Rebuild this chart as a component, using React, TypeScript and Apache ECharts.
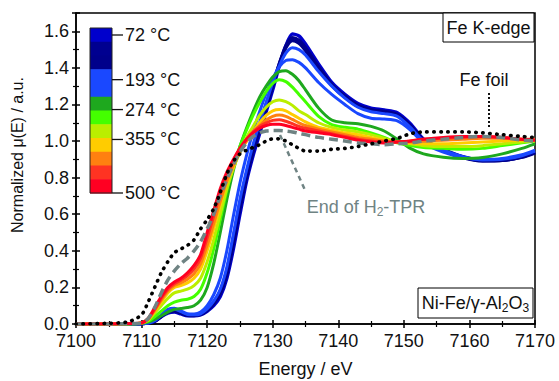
import React, { useEffect, useRef } from 'react';
import * as echarts from 'echarts';

const FONT = 'Liberation Sans, Arial, Helvetica, sans-serif';

// Energy grid (eV)
const energy = [7100, 7105, 7108, 7110, 7111, 7112, 7113, 7114, 7115, 7116, 7117, 7118, 7119, 7120, 7121, 7122, 7123, 7124, 7125, 7126, 7127, 7128, 7129, 7130, 7131, 7132, 7133, 7134, 7135, 7137, 7139, 7141, 7143, 7145, 7147, 7149, 7151, 7153, 7156, 7159, 7162, 7165, 7168, 7170];

// In-situ spectra during H2-TPR (72 °C -> 500 °C)
const spec01 = [0, 0, 0, 0.002, 0.005, 0.015, 0.04, 0.06, 0.065, 0.055, 0.045, 0.045, 0.05, 0.07, 0.1, 0.15, 0.25, 0.41, 0.6, 0.78, 0.92, 1.04, 1.16, 1.28, 1.41, 1.52, 1.585, 1.575, 1.53, 1.42, 1.32, 1.255, 1.205, 1.18, 1.17, 1.155, 1.095, 1.01, 0.955, 0.915, 0.895, 0.895, 0.915, 0.94];
const spec02 = [0, 0, 0, 0.002, 0.005, 0.015, 0.042, 0.065, 0.07, 0.06, 0.048, 0.047, 0.052, 0.075, 0.11, 0.165, 0.27, 0.44, 0.63, 0.8, 0.94, 1.06, 1.18, 1.3, 1.42, 1.52, 1.565, 1.55, 1.51, 1.405, 1.31, 1.245, 1.195, 1.172, 1.162, 1.145, 1.085, 1.005, 0.95, 0.912, 0.893, 0.895, 0.913, 0.938];
const spec03 = [0, 0, 0, 0.002, 0.005, 0.016, 0.044, 0.068, 0.074, 0.063, 0.05, 0.049, 0.055, 0.08, 0.12, 0.18, 0.29, 0.47, 0.66, 0.82, 0.96, 1.08, 1.2, 1.31, 1.42, 1.51, 1.55, 1.535, 1.495, 1.395, 1.305, 1.24, 1.19, 1.168, 1.158, 1.14, 1.08, 1.0, 0.948, 0.91, 0.892, 0.895, 0.912, 0.936];
const spec04 = [0, 0, 0, 0.002, 0.005, 0.018, 0.047, 0.075, 0.082, 0.068, 0.052, 0.05, 0.056, 0.082, 0.125, 0.19, 0.31, 0.49, 0.68, 0.84, 0.98, 1.1, 1.21, 1.32, 1.41, 1.48, 1.51, 1.5, 1.47, 1.38, 1.3, 1.235, 1.185, 1.16, 1.15, 1.135, 1.075, 1.0, 0.95, 0.915, 0.897, 0.9, 0.92, 0.945];
const spec05 = [0, 0, 0, 0.002, 0.006, 0.02, 0.05, 0.08, 0.086, 0.072, 0.056, 0.055, 0.065, 0.1, 0.16, 0.25, 0.4, 0.59, 0.77, 0.92, 1.05, 1.16, 1.26, 1.34, 1.405, 1.44, 1.445, 1.43, 1.4, 1.32, 1.255, 1.2, 1.15, 1.125, 1.12, 1.11, 1.06, 0.99, 0.94, 0.91, 0.9, 0.905, 0.925, 0.95];
const spec06 = [0, 0, 0, 0.003, 0.01, 0.025, 0.045, 0.065, 0.08, 0.085, 0.09, 0.1, 0.13, 0.2, 0.33, 0.5, 0.68, 0.84, 0.97, 1.07, 1.16, 1.24, 1.3, 1.35, 1.38, 1.385, 1.365, 1.33, 1.28, 1.18, 1.115, 1.1, 1.095, 1.08, 1.055, 1.01, 0.96, 0.93, 0.912, 0.905, 0.91, 0.93, 0.96, 0.985];
const spec07 = [0, 0, 0, 0.004, 0.015, 0.04, 0.07, 0.1, 0.12, 0.13, 0.135, 0.15, 0.19, 0.28, 0.41, 0.57, 0.73, 0.86, 0.97, 1.06, 1.14, 1.21, 1.27, 1.315, 1.335, 1.325, 1.295, 1.255, 1.215, 1.135, 1.09, 1.075, 1.065, 1.045, 1.02, 0.99, 0.975, 0.965, 0.96, 0.955, 0.96, 0.975, 0.99, 1.0];
const spec08 = [0, 0, 0, 0.005, 0.02, 0.06, 0.1, 0.14, 0.17, 0.18, 0.19, 0.21, 0.25, 0.34, 0.46, 0.6, 0.74, 0.85, 0.94, 1.02, 1.08, 1.14, 1.185, 1.215, 1.225, 1.215, 1.195, 1.165, 1.145, 1.1, 1.075, 1.06, 1.05, 1.035, 1.015, 0.995, 0.985, 0.975, 0.97, 0.97, 0.975, 0.985, 0.995, 1.0];
const spec09 = [0, 0, 0.002, 0.006, 0.025, 0.07, 0.12, 0.17, 0.2, 0.21, 0.225, 0.25, 0.3, 0.4, 0.52, 0.65, 0.77, 0.86, 0.94, 1.0, 1.05, 1.1, 1.14, 1.165, 1.172, 1.165, 1.145, 1.125, 1.105, 1.075, 1.06, 1.045, 1.035, 1.02, 1.005, 0.995, 0.99, 0.985, 0.985, 0.99, 0.995, 1.0, 1.005, 1.005];
const spec10 = [0, 0, 0.002, 0.006, 0.025, 0.075, 0.13, 0.18, 0.21, 0.225, 0.245, 0.275, 0.33, 0.43, 0.55, 0.67, 0.78, 0.87, 0.95, 1.0, 1.045, 1.085, 1.115, 1.135, 1.142, 1.135, 1.118, 1.1, 1.085, 1.065, 1.05, 1.035, 1.02, 1.01, 1.0, 0.995, 0.995, 1.0, 1.005, 1.01, 1.015, 1.015, 1.01, 1.01];
const spec11 = [0, 0, 0.003, 0.006, 0.03, 0.08, 0.14, 0.19, 0.22, 0.24, 0.265, 0.3, 0.36, 0.47, 0.59, 0.71, 0.81, 0.89, 0.96, 1.01, 1.05, 1.08, 1.1, 1.113, 1.117, 1.108, 1.095, 1.08, 1.07, 1.055, 1.04, 1.025, 1.01, 1.0, 0.995, 0.995, 1.0, 1.01, 1.015, 1.02, 1.025, 1.02, 1.01, 1.005];
const spec12 = [0, 0, 0.003, 0.006, 0.03, 0.09, 0.15, 0.2, 0.23, 0.25, 0.28, 0.32, 0.38, 0.5, 0.62, 0.74, 0.83, 0.9, 0.96, 1.01, 1.045, 1.07, 1.085, 1.092, 1.092, 1.085, 1.075, 1.065, 1.055, 1.045, 1.035, 1.02, 1.005, 0.995, 0.99, 0.995, 1.0, 1.01, 1.02, 1.025, 1.025, 1.02, 1.01, 1.005];

// Reference spectra
const endOfTPR = [0, 0, 0.002, 0.005, 0.03, 0.09, 0.17, 0.24, 0.29, 0.33, 0.36, 0.4, 0.45, 0.52, 0.6, 0.7, 0.79, 0.87, 0.94, 0.99, 1.025, 1.045, 1.055, 1.058, 1.058, 1.055, 1.05, 1.042, 1.035, 1.02, 1.01, 1.0, 0.99, 0.985, 0.98, 0.985, 0.99, 1.0, 1.01, 1.02, 1.025, 1.02, 1.005, 1.0];
const feFoil = [0, 0.004, 0.012, 0.05, 0.12, 0.2, 0.28, 0.34, 0.39, 0.41, 0.43, 0.46, 0.52, 0.57, 0.63, 0.72, 0.82, 0.89, 0.93, 0.95, 0.965, 0.98, 1.0, 1.012, 1.012, 1.0, 0.98, 0.96, 0.945, 0.945, 0.955, 0.96, 0.97, 0.985, 1.0, 1.015, 1.04, 1.05, 1.05, 1.05, 1.045, 1.035, 1.025, 1.02];

const spectra = [spec01, spec02, spec03, spec04, spec05, spec06, spec07, spec08, spec09, spec10, spec11, spec12];
const spectraColors = ['#0000cc', '#000090', '#00008b', '#1a48ff', '#1a48ff', '#1ea81e', '#44ff00', '#bbee00', '#ffcc00', '#ff8010', '#ff3322', '#ff0022'];

// Colour bar
const barTemps = [72, 193, 274, 355, 500];

const xTicks = { min: 7100, max: 7170, step: 10 };
const yTicks = { min: 0, max: 1.7, step: 0.2 };

export default function App() {
  const ref = useRef<HTMLDivElement>(null);

  useEffect(() => {
    if (!ref.current) return;
    const chart = echarts.init(ref.current, null, { renderer: 'svg' });

    const axisCol = '#000';
    const baseAxis = (inside: boolean) => ({
      axisLine: { show: !inside, lineStyle: { color: axisCol, width: 1.5 } },
      axisTick: { show: true, inside, length: 4, lineStyle: { color: axisCol, width: 1.5 } },
      minorTick: { show: true, splitNumber: 2, length: 3, lineStyle: { color: axisCol, width: 1.2 } },
      splitLine: { show: false },
      minorSplitLine: { show: false },
    });

    const xAxisMain = {
      type: 'value', min: xTicks.min, max: xTicks.max, interval: xTicks.step, position: 'bottom',
      ...baseAxis(false),
      axisLabel: { color: '#111', fontSize: 18, fontFamily: FONT, margin: 8, formatter: (v: number) => String(v) },
      name: 'Energy / eV', nameLocation: 'middle', nameGap: 36,
      nameTextStyle: { color: '#111', fontSize: 18, fontFamily: FONT },
    };
    const xAxisIn = {
      type: 'value', min: xTicks.min, max: xTicks.max, interval: xTicks.step, position: 'bottom',
      ...baseAxis(true), axisLabel: { show: false },
    };
    const yAxisMain = {
      type: 'value', min: yTicks.min, max: yTicks.max, interval: yTicks.step, position: 'left',
      ...baseAxis(false),
      axisLabel: { color: '#111', fontSize: 18, fontFamily: FONT, margin: 7, showMaxLabel: false, formatter: (v: number) => v.toFixed(1) },
    };
    const yAxisIn = {
      type: 'value', min: yTicks.min, max: yTicks.max, interval: yTicks.step, position: 'left',
      ...baseAxis(true), axisLabel: { show: false },
    };

    const toPairs = (arr: number[]) => energy.map((e, i) => [e, arr[i]]);

    const series: any[] = spectra.map((arr, i) => ({
      type: 'line', name: 'spectrum ' + (i + 1), data: toPairs(arr), showSymbol: false, symbol: 'none',
      smooth: 0.25, xAxisIndex: 0, yAxisIndex: 0,
      lineStyle: { color: spectraColors[i], width: i < 3 ? 3.5 : 3 }, z: 2 + i * 0.01,
    }));
    series.push({
      type: 'line', name: 'End of H2-TPR', data: toPairs(endOfTPR), showSymbol: false, symbol: 'none', smooth: 0.25,
      lineStyle: { color: '#6f8383', width: 3.5, type: [9, 5] }, z: 3,
    });
    series.push({
      type: 'line', name: 'Fe foil', data: toPairs(feFoil), showSymbol: false, symbol: 'none', smooth: 0.25,
      lineStyle: { color: '#000', width: 3.6, type: [0.5, 6.5], cap: 'round' }, z: 4,
    });

    // colour bar graphic
    const barX = 90, barTop = 28, barW = 22, barH = 165;
    const cell = barH / spectraColors.length;
    const tempY = (t: number) => 35 + (t - barTemps[0]) / (barTemps[barTemps.length - 1] - barTemps[0]) * (193 - 35);
    const graphic: any[] = [];
    spectraColors.forEach((c, i) => {
      graphic.push({ type: 'rect', shape: { x: barX, y: barTop + i * cell, width: barW, height: cell + 0.6 }, style: { fill: c }, z: 50 });
    });
    graphic.push({ type: 'rect', shape: { x: barX, y: barTop, width: barW, height: barH }, style: { fill: 'none', stroke: '#222', lineWidth: 1 }, z: 51 });
    barTemps.forEach((t) => {
      const y = tempY(t);
      graphic.push({ type: 'line', shape: { x1: barX + barW, y1: y, x2: barX + barW + 11, y2: y }, style: { stroke: '#111', lineWidth: 1.3 }, z: 51 });
      graphic.push({ type: 'text', x: barX + barW + 13, y, style: { text: t + ' \u00b0C', fontSize: 18, fontFamily: FONT, fill: '#111', align: 'left', verticalAlign: 'middle' }, z: 51 });
    });

    // y-axis title
    graphic.push({
      type: 'text', x: 17, y: 155, rotation: Math.PI / 2,
      style: { text: 'Normalized \u03bc(E) / a.u.', fontSize: 16, fontFamily: FONT, fill: '#111', align: 'center', verticalAlign: 'middle' }, z: 61,
    });

    // boxes & annotations
    graphic.push({ type: 'rect', shape: { x: 443, y: 13, width: 91, height: 29 }, style: { fill: '#fff', stroke: '#000', lineWidth: 1 }, z: 60 });
    graphic.push({ type: 'text', x: 488.5, y: 28, style: { text: 'Fe K-edge', fontSize: 18, fontFamily: FONT, fill: '#111', align: 'center', verticalAlign: 'middle' }, z: 61 });
    graphic.push({ type: 'rect', shape: { x: 418, y: 288, width: 115, height: 30 }, style: { fill: '#fff', stroke: '#000', lineWidth: 1 }, z: 60 });
    graphic.push({
      type: 'text', x: 475.5, y: 303,
      style: {
        text: 'Ni-Fe/\u03b3-Al{sub|2}O{sub|3}', fontSize: 18, fontFamily: FONT, fill: '#111', align: 'center', verticalAlign: 'middle',
        rich: { sub: { fontSize: 12, fontFamily: FONT, fill: '#111', padding: [10, 0, 0, 0] } },
      }, z: 61,
    });
    graphic.push({ type: 'text', x: 484, y: 80, style: { text: 'Fe foil', fontSize: 18, fontFamily: FONT, fill: '#111', align: 'center', verticalAlign: 'middle' }, z: 61 });
    graphic.push({ type: 'line', shape: { x1: 489, y1: 93, x2: 489, y2: 127 }, style: { stroke: '#111', lineWidth: 2, lineDash: [2, 2] }, z: 61 });
    graphic.push({
      type: 'text', x: 366, y: 207,
      style: { text: 'End of H{sub|2}-TPR', fontSize: 18, fontFamily: FONT, fill: '#6f8383', align: 'center', verticalAlign: 'middle', rich: { sub: { fontSize: 12, fontFamily: FONT, fill: '#6f8383', padding: [10, 0, 0, 0] } } },
      z: 61,
    });
    graphic.push({ type: 'line', shape: { x1: 280, y1: 135, x2: 305, y2: 190 }, style: { stroke: '#6f8383', lineWidth: 2.5, lineDash: [5, 4] }, z: 61 });

    chart.setOption({
      animation: false,
      backgroundColor: '#fff',
      grid: { left: 76, right: 24, top: 13, bottom: 57, show: true, borderColor: '#000', borderWidth: 1.5, backgroundColor: 'transparent', outerBoundsMode: 'none', containLabel: false },
      xAxis: [xAxisMain, xAxisIn],
      yAxis: [yAxisMain, yAxisIn],
      series,
      graphic,
    });

    return () => chart.dispose();
  }, []);

  return <div ref={ref} style={{ position: 'fixed', left: 0, top: 0, width: 559, height: 381, background: '#fff' }} />;
}
